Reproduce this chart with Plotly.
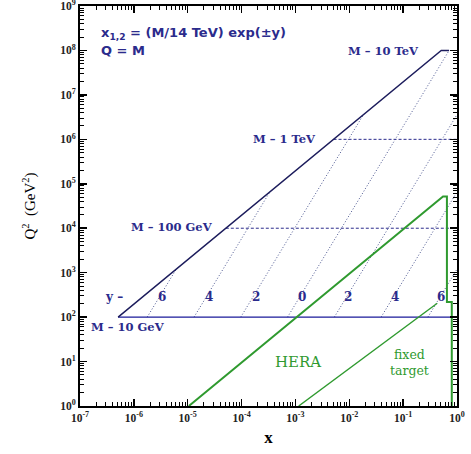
import plotly.graph_objects as go

# ---- data (x, Q^2 in GeV^2) ----
boundary_x = [5.1e-7, 0.51, 0.714]
boundary_q2 = [1e2, 1e8, 1e8]

m10gev_x = [5.1e-7, 1.0]
m10gev_q2 = [1e2, 1e2]
m100gev_x = [5.1e-5, 1.0]
m100gev_q2 = [1e4, 1e4]
m1tev_x = [5.1e-3, 1.0]
m1tev_q2 = [1e6, 1e6]

# rapidity lines: start (at M = 10 GeV) and end points
rap_labels = ["6", "4", "2", "0", "2", "4", "6"]
rap_x0 = [1.77e-6, 1.31e-5, 9.66e-5, 7.14e-4, 5.28e-3, 0.039, 0.288]
rap_q0 = [1e2, 1e2, 1e2, 1e2, 1e2, 1e2, 1e2]
rap_x1 = [6.14e-6, 3.35e-4, 0.0183, 0.714, 1.0, 1.0, 1.0]
rap_q1 = [1204, 6.57e4, 3.59e6, 1e8, 3.59e6, 6.57e4, 1204]

hera_x = [1.05e-5, 0.55, 0.65, 0.65, 0.80, 0.80]
hera_q2 = [1.0, 5.2e4, 5.2e4, 218, 218, 1.0]

fixed_x = [1.15e-3, 0.43]
fixed_q2 = [1.0, 205]

tick_exps = list(range(-7, 1))
ytick_exps = list(range(0, 10))

NAVY = "#1c1c5c"
BLUE = "#2b2b8c"
DOT = "#4a5590"
GREEN = "#2f9a2f"

fig = go.Figure()

def line(x, y, color, width=1.2, dash="solid"):
    fig.add_trace(go.Scatter(x=x, y=y, mode="lines",
                             line=dict(color=color, width=width, dash=dash),
                             hoverinfo="skip", showlegend=False))

for i in range(len(rap_x0)):
    line([rap_x0[i], rap_x1[i]], [rap_q0[i], rap_q1[i]], DOT, 1.0, "1px,2px")

line(m100gev_x, m100gev_q2, BLUE, 1.0, "3px,2px")
line(m1tev_x, m1tev_q2, BLUE, 1.0, "3px,2px")
line(m10gev_x, m10gev_q2, "#1a1a9a", 1.3)
line(boundary_x, boundary_q2, NAVY, 1.4)
line(hera_x, hera_q2, GREEN, 2.0)
line(fixed_x, fixed_q2, GREEN, 1.4)

def lx(px):
    return -7 + (px - 80) / 54.0

def ly(py):
    return (406 - py) / 44.5

SERIF = "Liberation Serif"
WSERIF = "DejaVu Serif"
ann = []

def add(text, px, py, color=BLUE, size=12, family=WSERIF, xanchor="left"):
    ann.append(dict(x=lx(px), y=ly(py), xref="x", yref="y", text=text,
                    showarrow=False, xanchor=xanchor, yanchor="middle",
                    font=dict(family=family, size=size, color=color)))

add("<b>x<sub>1,2</sub> = (M/14 TeV) exp(±y)</b>", 99, 33, size=13, family="DejaVu Sans")
add("<b>Q = M</b>", 99, 50, size=13, family="DejaVu Sans")
add("<b>M – 10 TeV</b>", 347, 51, size=11.5)
add("<b>M – 1 TeV</b>", 251, 139, size=11.5)
add("<b>M – 100 GeV</b>", 129, 227, size=11.5)
add("<b>y –</b>", 103, 297, size=12)
add("<b>M – 10 GeV</b>", 89, 327, size=11.5)
rap_label_px = [162, 209, 256, 303, 349, 396, 442]
for lab, px in zip(rap_labels, rap_label_px):
    add("<b>" + lab + "</b>", px, 297, size=12, xanchor="center")
add("HERA", 274, 362, color=GREEN, size=15)
add("fixed<br>target", 389, 362, color=GREEN, size=12.5)

fig.update_layout(annotations=ann)

fig.update_xaxes(type="log", range=[-7, 0], automargin=False, ticklabeloverflow="allow",
                 tickvals=[10.0 ** e for e in tick_exps],
                 ticktext=["<b>10<sup>%d</sup></b>" % e for e in tick_exps],
                 ticks="inside", ticklen=7, tickwidth=1.5, tickcolor="black",
                 minor=dict(ticks="inside", ticklen=4, tickwidth=1, tickcolor="black", dtick="D1"),
                 showline=True, linewidth=2, linecolor="black", mirror="allticks",
                 showgrid=False, zeroline=False,
                 tickfont=dict(family=SERIF, size=11.5, color="#222222"),
                 title=dict(text="<b>x</b>", font=dict(family=SERIF, size=17, color="black"), standoff=8))
fig.update_yaxes(type="log", range=[0, 9], automargin=False, ticklabeloverflow="allow",
                 tickvals=[10.0 ** e for e in ytick_exps],
                 ticktext=["<b>10<sup>%d</sup></b>" % e for e in ytick_exps],
                 ticks="inside", ticklen=7, tickwidth=1.5, tickcolor="black",
                 minor=dict(ticks="inside", ticklen=4, tickwidth=1, tickcolor="black", dtick="D1"),
                 showline=True, linewidth=2, linecolor="black", mirror="allticks",
                 showgrid=False, zeroline=False,
                 tickfont=dict(family=SERIF, size=11.5, color="#222222"),
                 title=dict(text="Q<sup>2</sup>  (GeV<sup>2</sup>)", font=dict(family=SERIF, size=15, color="black"), standoff=21))

fig.update_layout(width=471, height=454,
                  margin=dict(l=80, r=14, t=6, b=48, autoexpand=False),
                  plot_bgcolor="white", paper_bgcolor="white",
                  showlegend=False)

fig.write_html("out.html", config={"displayModeBar": False, "staticPlot": True},
               post_script="document.body.style.margin='0px';document.body.style.overflow='hidden';")
